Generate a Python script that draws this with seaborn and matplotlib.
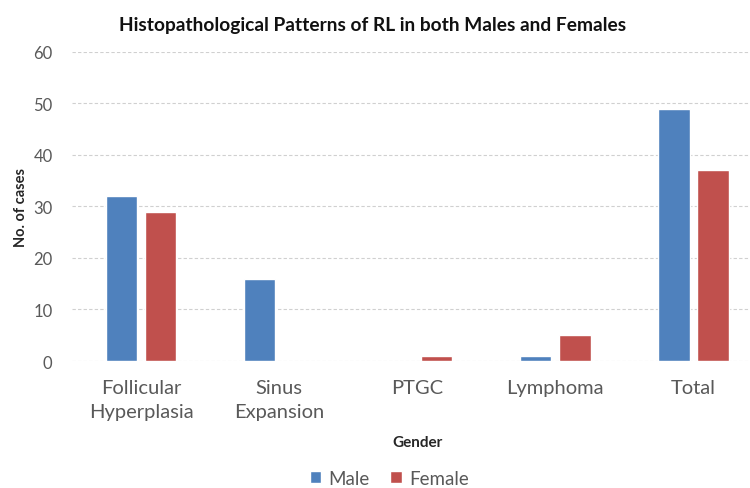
import pandas as pd
import matplotlib
matplotlib.use("Agg")
import matplotlib.pyplot as plt
import seaborn as sns

# Data
categories = ["Follicular\nHyperplasia", "Sinus\nExpansion", "PTGC", "Lymphoma", "Total"]
male = [32, 16, 0, 1, 49]
female = [29, 0, 1, 5, 37]

df = pd.DataFrame({
    "category": categories * 2,
    "count": male + female,
    "sex": ["Male"] * len(categories) + ["Female"] * len(categories),
})

sns.set_theme(style="white")
plt.rcParams["font.family"] = ["Lato", "DejaVu Sans"]

fig = plt.figure(figsize=(7.5, 4.89), dpi=100)
ax = fig.add_axes([0.096, 0.2597, 0.9207, 0.632])

sns.barplot(data=df, x="category", y="count", hue="sex",
            palette={"Male": "#4F81BD", "Female": "#C0504D"},
            saturation=1, width=0.566, gap=0.2, ax=ax)

ax.set_ylim(0, 60)
ax.set_yticks(range(0, 61, 10))
ax.yaxis.grid(True, linestyle=(0, (3, 2)), color="#d0d0d0", linewidth=0.8)
ax.set_axisbelow(True)
for s in ax.spines.values():
    s.set_visible(False)

ax.tick_params(axis="y", labelsize=12, labelcolor="#595959", length=0, pad=14)
ax.tick_params(axis="x", labelsize=14.5, labelcolor="#595959", length=0, pad=13)
for lbl in ax.get_xticklabels():
    lbl.set_linespacing(1.5)
    lbl.set_multialignment("center")

ax.set_ylabel("No. of cases", fontsize=10.5, fontweight="bold", labelpad=4)
ax.set_xlabel("Gender", fontsize=11, fontweight="bold", labelpad=10.5)
fig.suptitle("Histopathological Patterns of RL in both Males and Females",
             x=0.497, y=0.948, va="center",
             fontsize=13.8, fontweight="bold", color="#111111")

handles, labels = ax.get_legend_handles_labels()
ax.get_legend().remove()
fig.legend(handles, labels, loc="center", bbox_to_anchor=(0.519, 0.02), ncol=2,
           frameon=False, fontsize=13.5, handlelength=0.6, handleheight=0.6,
           handletextpad=0.4, columnspacing=1.1, labelcolor="#595959")

fig.savefig("out.png", dpi=100)
